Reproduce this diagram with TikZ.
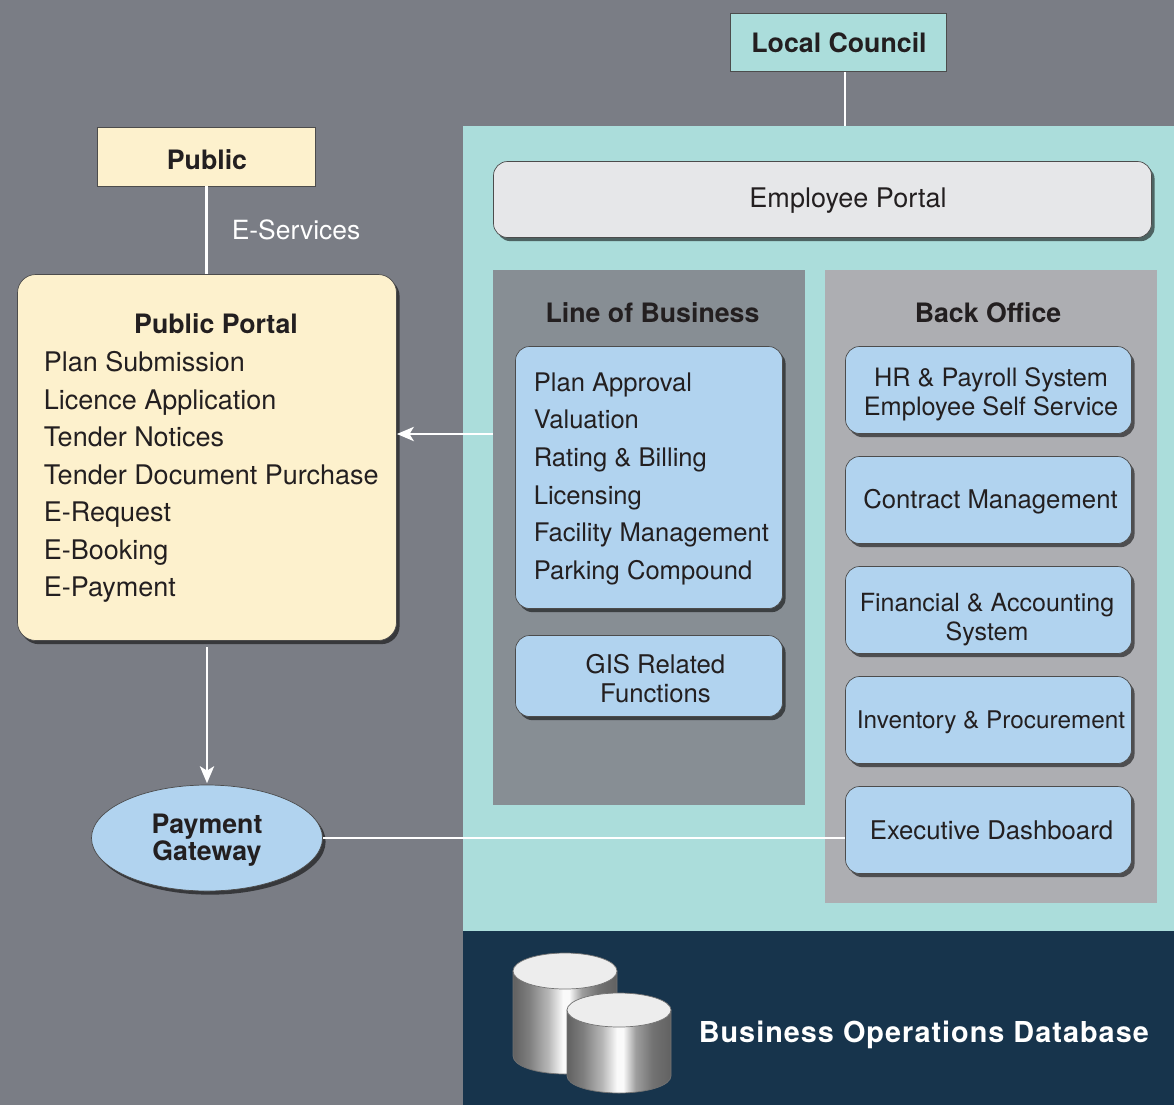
\documentclass[tikz,border=0pt]{standalone}
\usepackage{fontspec}
\setmainfont{TeX Gyre Heros}
\usetikzlibrary{shapes}
\usetikzlibrary{shadows}
\usetikzlibrary{arrows.meta}
\definecolor{slatebg}{HTML}{7A7D85}
\definecolor{tealbg}{HTML}{ABDDDB}
\definecolor{navybg}{HTML}{17344C}
\definecolor{creambox}{HTML}{FDF1CD}
\definecolor{bluebox}{HTML}{B1D3EF}
\definecolor{greybox}{HTML}{E6E7E9}
\definecolor{lobpanel}{HTML}{878E94}
\definecolor{backpanel}{HTML}{ADAEB2}
\definecolor{inktext}{HTML}{231F20}
\def\px{0.025cm}
\pgfdeclarehorizontalshading{cylshade}{100bp}{color(0bp)=(black!62); color(25bp)=(black!62); color(33bp)=(black!50); color(42bp)=(black!28); color(49bp)=(black!2); color(52bp)=(black!2); color(58bp)=(black!38); color(66bp)=(black!55); color(75bp)=(black!62); color(100bp)=(black!62)}

\begin{document}
\begin{tikzpicture}[x=\px,y=-\px]
\tikzset{plain/.style = {font=\fontsize{19.2}{26.7}\selectfont,text=inktext,align=center,inner sep=0pt}}
\tikzset{boxtext/.style = {plain,font=\fontsize{18.3}{20.6}\selectfont}}
\tikzset{heading/.style = {plain,font=\fontsize{19}{27}\selectfont\bfseries}}
\tikzset{listing/.style = {plain,align=left,anchor=north west}}
\tikzset{soft shadow/.style = {drop shadow={shadow xshift=2.2pt,shadow yshift=-2.6pt,fill=black,opacity=0.55}}}
\tikzset{shaded box/.style = {draw=black!70,line width=0.5pt,rounded corners=10pt,inner sep=0pt,soft shadow}}
\tikzset{flat/.style = {inner sep=0pt}}
\tikzset{tag/.style = {draw=black!70,line width=0.5pt,inner sep=0pt}}
\tikzset{link/.style = {draw=white,line width=2.1pt}}
\tikzset{linkarrow/.style = {link,-{Stealth[length=12pt,width=10pt,inset=3pt]}}}
\tikzset{size/.style 2 args = {minimum width=#1*\px,minimum height=#2*\px}}

\useasboundingbox (0,0) rectangle (1174,1105);
\node[flat,fill=slatebg,size={1174}{1105}] (sheet) at (587,552.5) {};

% council side
\node[flat,fill=tealbg,size={711}{805}] (office) at (818.5,528.5) {};
\node[flat,fill=navybg,size={711}{174}] (database) at (818.5,1018) {};
\node[flat,fill=lobpanel,size={312}{535}] (lob) at (649,537.5) {};
\node[flat,fill=backpanel,size={332}{633}] (back) at (991,586.5) {};

\node[tag,fill=tealbg,size={216}{58}] (council) at (838.5,42.5) {};
\node[heading] (councilname) at (839,43) {Local Council};
\node[shaded box,fill=greybox,size={658}{76}] (employee) at (822.5,199.5) {};
\node[plain] (employeename) at (848,201) {Employee Portal};

\node[heading] (lobname) at (652.5,313) {Line of Business};
\node[heading] (backname) at (988,313) {Back Office};

\node[shaded box,fill=bluebox,size={267}{262}] (lobbox) at (649,477.5) {};
\node[listing,font=\fontsize{18.2}{26.7}\selectfont] (loblist) at (533.5,372.5) {Plan Approval\\Valuation\\Rating \& Billing\\Licensing\\Facility Management\\Parking Compound};
\node[shaded box,fill=bluebox,size={267}{81}] (gis) at (649,676) {};
\node[boxtext] (gisname) at (655.5,679) {GIS Related\\Functions};

\node[shaded box,fill=bluebox,size={286}{87}] (hr) at (988.5,390) {};
\node[boxtext,font=\fontsize{18}{20.6}\selectfont] (hrname) at (991,394) {HR \& Payroll System\\Employee Self Service};
\node[shaded box,fill=bluebox,size={286}{87}] (contract) at (988.5,500) {};
\node[boxtext] (contractname) at (990.5,502) {Contract Management};
\node[shaded box,fill=bluebox,size={286}{87}] (finance) at (988.5,610) {};
\node[boxtext,font=\fontsize{17.8}{20.6}\selectfont] (financename) at (987,620) {Financial \& Accounting\\System};
\node[shaded box,fill=bluebox,size={286}{87}] (inventory) at (988.5,720) {};
\node[boxtext,font=\fontsize{17.3}{20.6}\selectfont] (inventoryname) at (991,722.5) {Inventory \& Procurement};
\node[shaded box,fill=bluebox,size={286}{87}] (dashboard) at (988.5,830) {};
\node[boxtext] (dashboardname) at (991.5,830) {Executive Dashboard};

% public side
\node[tag,fill=creambox,size={218}{59}] (public) at (206.5,156.5) {};
\node[heading] (publicname) at (207,160) {Public};
\node[shaded box,fill=creambox,size={379}{366},rounded corners=13pt] (portal) at (207,457.5) {};
\node[heading] (portalname) at (216,324) {Public Portal};
\node[listing] (portallist) at (43.5,351) {Plan Submission\\Licence Application\\Tender Notices\\Tender Document Purchase\\E-Request\\E-Booking\\E-Payment};
\node[shape=ellipse,draw=black!70,line width=0.5pt,fill=bluebox,inner sep=0pt,size={231}{106},soft shadow] (gateway) at (207,838) {};
\node[heading,font=\fontsize{19}{19.2}\selectfont\bfseries] (gatewayname) at (207,840) {Payment\\Gateway};

% connectors
\coordinate (counciltap) at (845,126);
\coordinate (portalfoot) at (207,647);
\draw[link,line width=0.8pt] (counciltap |- council.south) -- (counciltap |- office.north);
\draw[link] (public.south) -- (public.south |- portal.north);
\node[plain,font=\fontsize{18.8}{26.7}\selectfont,text=white,anchor=west] (eservices) at (231.5,230) {E-Services};
\draw[linkarrow] (portalfoot) -- ([yshift=1pt]gateway.north);
\draw[linkarrow] (lob.west |- 0,434) -- (portal.east |- 0,434);
\draw[link] (gateway.east |- 0,838) -- (dashboard.west |- 0,838);

% database
\path[draw=black!55,line width=0.5pt,shading=cylshade] (513,971) -- (513,1056) arc[x radius=52,y radius=18,start angle=180,end angle=0] -- (617,971) -- cycle;
\path[draw=black!55,line width=0.5pt,fill=black!7] (565,971) ellipse[x radius=52,y radius=18];
\path[draw=black!55,line width=0.5pt,shading=cylshade] (567,1010) -- (567,1076) arc[x radius=52,y radius=17,start angle=180,end angle=0] -- (671,1010) -- cycle;
\path[draw=black!55,line width=0.5pt,fill=black!7] (619,1010) ellipse[x radius=52,y radius=17];
\node[heading,font=\fontsize{20.5}{27}\selectfont\bfseries\addfontfeatures{LetterSpace=3.5},text=white,anchor=west] (databasename) at (698.5,1035) {Business Operations Database};
\end{tikzpicture}
\end{document}
